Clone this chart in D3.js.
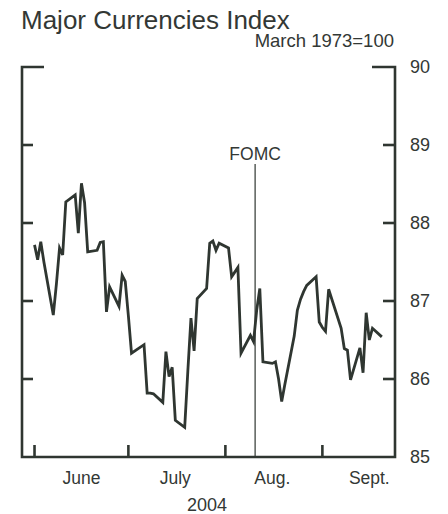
<!DOCTYPE html>
<html>
<head>
<meta charset="utf-8">
<script src="https://cdn.jsdelivr.net/npm/d3@7"></script>
<style>
  body { margin: 0; background: #fff; }
  text { font-family: "Liberation Sans", Arial, sans-serif; fill: #333835; }
</style>
</head>
<body>
<svg width="448" height="514"></svg>
<script>
// data (business days, 2004)
const dates = [
  '2004-06-01','2004-06-02','2004-06-03','2004-06-04','2004-06-07','2004-06-08','2004-06-09','2004-06-10','2004-06-11',
  '2004-06-14','2004-06-15','2004-06-16','2004-06-17','2004-06-18','2004-06-21','2004-06-22','2004-06-23','2004-06-24',
  '2004-06-25','2004-06-28','2004-06-29','2004-06-30','2004-07-01','2004-07-02','2004-07-06','2004-07-07','2004-07-08',
  '2004-07-09','2004-07-12','2004-07-13','2004-07-14','2004-07-15','2004-07-16','2004-07-19','2004-07-20','2004-07-21',
  '2004-07-22','2004-07-23','2004-07-26','2004-07-27','2004-07-28','2004-07-29','2004-07-30','2004-08-02','2004-08-03',
  '2004-08-04','2004-08-05','2004-08-06','2004-08-09','2004-08-10','2004-08-11','2004-08-12','2004-08-13','2004-08-16',
  '2004-08-17','2004-08-18','2004-08-19','2004-08-20','2004-08-23','2004-08-24','2004-08-25','2004-08-26','2004-08-27',
  '2004-08-30','2004-08-31','2004-09-01','2004-09-02','2004-09-03','2004-09-07','2004-09-08','2004-09-09','2004-09-10',
  '2004-09-13','2004-09-14','2004-09-15','2004-09-16','2004-09-17','2004-09-20'
];
const values = [
  87.72, 87.53, 87.76, 87.50, 86.82, 87.22, 87.68, 87.59, 88.27,
  88.36, 87.87, 88.51, 88.26, 87.63, 87.65, 87.75, 87.76, 86.86,
  87.18, 86.93, 87.33, 87.25, 86.81, 86.33, 86.44, 85.82, 85.82,
  85.81, 85.70, 86.35, 86.03, 86.15, 85.47, 85.38, 86.10, 86.78,
  86.36, 87.03, 87.16, 87.74, 87.77, 87.65, 87.74, 87.68, 87.31,
  87.37, 87.43, 86.33, 86.56, 86.48, 86.88, 87.16, 86.22, 86.20,
  86.22, 86.00, 85.71, 85.93, 86.55, 86.88, 87.02, 87.12, 87.20,
  87.31, 86.73, 86.66, 86.61, 87.15, 86.65, 86.39, 86.37, 85.99,
  86.40, 86.08, 86.85, 86.50, 86.65, 86.54
];
const yTicks = [85, 86, 87, 88, 89, 90];
const monthTicks = ['2004-06-01', '2004-07-01', '2004-08-01', '2004-09-01'];
const monthLabels = ['June', 'July', 'Aug.', 'Sept.'];
const fomcDate = '2004-08-10';

const parse = d3.timeParse('%Y-%m-%d');
const series = dates.map((d, i) => ({date: parse(d), value: values[i]}));

const svgD3 = d3.select('svg');
const ink = '#2f3631';

const plotLeft = 22, plotRight = 395, plotTop = 67, plotBottom = 457;

const x = d3.scaleTime()
  .domain([new Date(2004, 4, 28), new Date(2004, 8, 24, 5)])
  .range([plotLeft, plotRight]);
const y = d3.scaleLinear().domain([85, 90]).range([plotBottom, plotTop]);

// titles
svgD3.append('text')
  .attr('x', 21).attr('y', 29)
  .style('font-size', '26px')
  .text('Major Currencies Index');
svgD3.append('text')
  .attr('x', 394).attr('y', 47)
  .attr('text-anchor', 'end')
  .style('font-size', '18.5px')
  .text('March 1973=100');

// frame: left, bottom, right plus top corner stubs
const frame = d3.path();
frame.moveTo(plotLeft + 22, plotTop); frame.lineTo(plotLeft, plotTop); frame.lineTo(plotLeft, plotBottom);
frame.lineTo(plotRight, plotBottom); frame.lineTo(plotRight, plotTop); frame.lineTo(plotRight - 23, plotTop);
svgD3.append('path')
  .attr('d', frame.toString())
  .attr('fill', 'none')
  .attr('stroke', ink)
  .attr('stroke-width', 2.6);

// y ticks on both sides, pointing in
const inner = yTicks.filter(t => t > 85 && t < 90);
svgD3.selectAll('.ytickL').data(inner).enter().append('line')
  .attr('x1', plotLeft).attr('x2', plotLeft + 11)
  .attr('y1', d => y(d)).attr('y2', d => y(d))
  .attr('stroke', ink).attr('stroke-width', 2.6);
svgD3.selectAll('.ytickR').data(inner).enter().append('line')
  .attr('x1', plotRight - 12).attr('x2', plotRight)
  .attr('y1', d => y(d)).attr('y2', d => y(d))
  .attr('stroke', ink).attr('stroke-width', 2.6);

svgD3.selectAll('.ylab').data(yTicks).enter().append('text')
  .attr('x', 410)
  .attr('y', d => y(d))
  .attr('dy', '0.36em')
  .style('font-size', '18px')
  .text(d => d);

// month ticks and labels
const mt = monthTicks.map(parse);
svgD3.selectAll('.xtick').data(mt).enter().append('line')
  .attr('x1', d => x(d)).attr('x2', d => x(d))
  .attr('y1', plotBottom - 12).attr('y2', plotBottom)
  .attr('stroke', ink).attr('stroke-width', 2.6);

svgD3.selectAll('.xlab').data(mt).enter().append('text')
  .attr('x', d => x(d3.timeDay.offset(d, 15)))
  .attr('y', 484)
  .attr('text-anchor', 'middle')
  .style('font-size', '17.5px')
  .text((d, i) => monthLabels[i]);

svgD3.append('text')
  .attr('x', 207).attr('y', 511)
  .attr('text-anchor', 'middle')
  .style('font-size', '18px')
  .text('2004');

// FOMC marker
const fx = x(d3.timeHour.offset(parse(fomcDate), 12));
svgD3.append('line')
  .attr('x1', fx).attr('x2', fx)
  .attr('y1', 164).attr('y2', plotBottom)
  .attr('stroke', ink).attr('stroke-width', 1.2);
svgD3.append('text')
  .attr('x', fx).attr('y', 160)
  .attr('text-anchor', 'middle')
  .style('font-size', '17.5px')
  .text('FOMC');

// the index line
const line = d3.line().x(d => x(d.date)).y(d => y(d.value));
svgD3.append('path')
  .datum(series)
  .attr('d', line)
  .attr('fill', 'none')
  .attr('stroke', ink)
  .attr('stroke-width', 2.8)
  .attr('stroke-linejoin', 'miter');
</script>
</body>
</html>
